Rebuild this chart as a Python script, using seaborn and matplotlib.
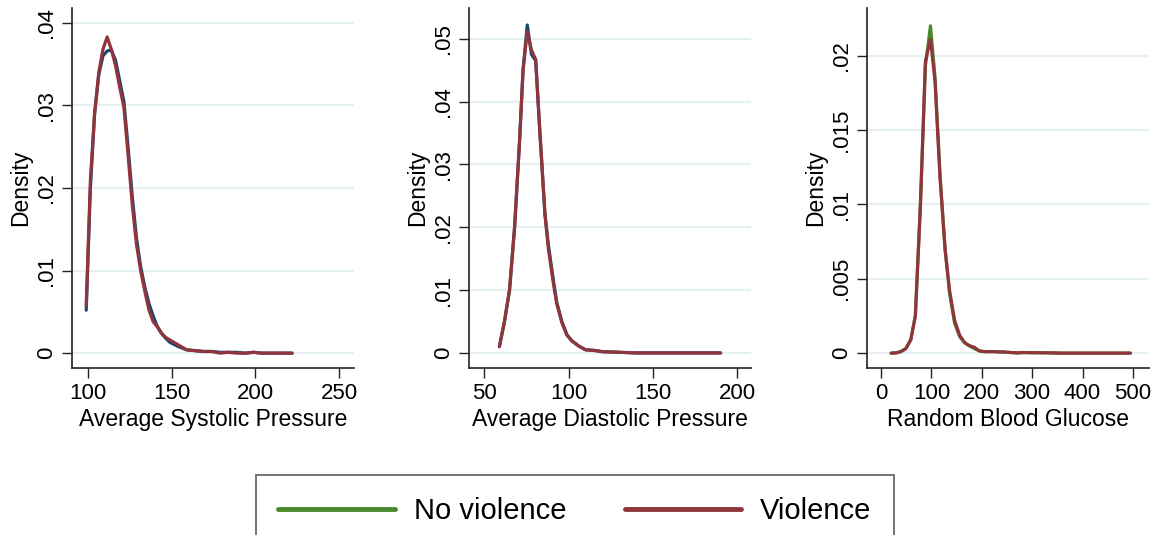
import pandas as pd
import numpy as np
import matplotlib
matplotlib.use("Agg")
import matplotlib.pyplot as plt
import seaborn as sns
from matplotlib.lines import Line2D

# ---- data ----
# systolic
sys_x = [99, 101.5, 104, 106.5, 109, 111.5, 114, 116.5, 119, 121.5, 124, 126.5, 129, 131.5,
         134, 136.5, 139, 141.5, 144, 146.5, 149, 154, 159, 164, 169, 174, 179, 184, 189,
         194, 199, 204, 209, 214, 222]
sys_noviol = [0.0052, 0.020, 0.029, 0.0337, 0.0360, 0.0366, 0.0367, 0.0355, 0.0330, 0.0305,
              0.0250, 0.0190, 0.0140, 0.0105, 0.0080, 0.0060, 0.0045, 0.0032, 0.0024,
              0.0018, 0.0013, 0.0008, 0.0004, 0.0003, 0.0002, 0.0002, 0.0001, 0.0001,
              0.0001, 0.0, 0.0001, 0.0, 0.0, 0.0, 0.0]
sys_viol = [0.0058, 0.021, 0.029, 0.0340, 0.0368, 0.0383, 0.0368, 0.0348, 0.0322, 0.0298,
            0.0240, 0.0180, 0.0132, 0.0100, 0.0075, 0.0052, 0.0038, 0.0032, 0.0024,
            0.0019, 0.0016, 0.0010, 0.0004, 0.0003, 0.0002, 0.0002, 0.0, 0.0001, 0.0,
            0.0, 0.0001, 0.0, 0.0, 0.0, 0.0]

# diastolic
dia_x = [59, 62, 65, 68, 71, 73, 75.5, 78, 80.5, 83, 86, 88, 91, 93, 96, 99, 102, 106, 110,
         115, 120, 130, 140, 150, 160, 170, 180, 190]
dia_noviol = [0.001, 0.005, 0.010, 0.020, 0.034, 0.045, 0.0522, 0.0475, 0.0465, 0.035,
              0.022, 0.0172, 0.0115, 0.0080, 0.0050, 0.0029, 0.0019, 0.0011, 0.0005,
              0.0004, 0.0002, 0.0001, 0.0, 0.0, 0.0, 0.0, 0.0, 0.0]
dia_viol = [0.001, 0.005, 0.010, 0.020, 0.034, 0.045, 0.0511, 0.0482, 0.0467, 0.035,
            0.022, 0.0166, 0.0110, 0.0078, 0.0048, 0.0028, 0.0019, 0.0011, 0.0005,
            0.0004, 0.0002, 0.0001, 0.0, 0.0, 0.0, 0.0, 0.0, 0.0]

# glucose
glu_x = [20, 30, 39, 49, 59, 68, 78, 88, 98, 107, 117, 127, 136, 146, 156, 166, 175, 185,
         195, 205, 214, 224, 234, 243, 253, 263, 272, 282, 300, 330, 360, 400, 440, 495]
glu_noviol = [0.0, 0.00002, 0.0001, 0.0003, 0.0009, 0.0025, 0.0100, 0.0193, 0.0220, 0.0186,
              0.0120, 0.0070, 0.0040, 0.0020, 0.0011, 0.0007, 0.0005, 0.0003, 0.00015,
              0.0001, 0.0001, 0.0001, 0.00008, 0.00008, 0.00005, 0.00003, 0.00002,
              0.00004, 0.00003, 0.00002, 0.0, 0.0, 0.0, 0.0]
glu_viol = [0.0, 0.00002, 0.0001, 0.0003, 0.0009, 0.0025, 0.0098, 0.0196, 0.0211, 0.0183,
            0.0118, 0.0070, 0.0042, 0.0022, 0.0012, 0.0007, 0.0005, 0.0004, 0.00015,
            0.0001, 0.0001, 0.0001, 0.00008, 0.00008, 0.00005, 0.00003, 0.00002,
            0.00004, 0.00003, 0.00002, 0.0, 0.0, 0.0, 0.0]

navy = "#1a476f"
maroon = "#90353b"
green = "#4a8a2c"

sns.set_style("ticks")
plt.rcParams["font.family"] = ["Liberation Sans", "DejaVu Sans"]
plt.rcParams["text.color"] = "black"
plt.rcParams["axes.labelcolor"] = "black"
plt.rcParams["xtick.color"] = "black"
plt.rcParams["ytick.color"] = "black"

fig = plt.figure(figsize=(11.59, 5.35), dpi=100)

panels = [
    dict(x=sys_x, a=sys_noviol, b=sys_viol, col_a=navy, left=72,
         xlim=(90.5, 259), xticks=[100, 150, 200, 250],
         ylim=(-0.0018, 0.0418), yticks=[0, 0.01, 0.02, 0.03, 0.04],
         ylabels=["0", ".01", ".02", ".03", ".04"], xlabel="Average Systolic Pressure"),
    dict(x=dia_x, a=dia_noviol, b=dia_viol, col_a=navy, left=469,
         xlim=(41, 208), xticks=[50, 100, 150, 200],
         ylim=(-0.0024, 0.0549), yticks=[0, 0.01, 0.02, 0.03, 0.04, 0.05],
         ylabels=["0", ".01", ".02", ".03", ".04", ".05"], xlabel="Average Diastolic Pressure"),
    dict(x=glu_x, a=glu_noviol, b=glu_viol, col_a=green, left=867,
         xlim=(-28, 532), xticks=[0, 100, 200, 300, 400, 500],
         ylim=(-0.001, 0.0232), yticks=[0, 0.005, 0.01, 0.015, 0.02],
         ylabels=["0", ".005", ".01", ".015", ".02"], xlabel="Random Blood Glucose"),
]

W, H = 1159, 535
for p in panels:
    ax = fig.add_axes([p["left"] / W, 1 - 368 / H, 282 / W, 360 / H])
    df = pd.DataFrame({"x": p["x"] + p["x"],
                       "density": p["a"] + p["b"],
                       "group": ["No violence"] * len(p["x"]) + ["Violence"] * len(p["x"])})
    sns.lineplot(data=df, x="x", y="density", hue="group",
                 palette={"No violence": p["col_a"], "Violence": maroon},
                 linewidth=2.3, legend=False, ax=ax, sort=False)
    ax.set_xlim(*p["xlim"])
    ax.set_ylim(*p["ylim"])
    ax.set_xticks(p["xticks"])
    ax.set_yticks(p["yticks"])
    ax.set_yticklabels(p["ylabels"], rotation=90, va="center")
    for yt in p["yticks"]:
        ax.axhline(yt, color="#e6eff2", lw=1.6, zorder=0)
    ax.tick_params(axis="both", labelsize=16, length=7.5, width=1, color="#222222", pad=3)
    ax.set_xlabel(p["xlabel"], fontsize=16.5, labelpad=3)
    ax.set_ylabel("Density", fontsize=16.5, labelpad=3)
    sns.despine(ax=ax)
    for s in ["left", "bottom"]:
        ax.spines[s].set_linewidth(1.2)
        ax.spines[s].set_color("#222222")

handles = [Line2D([], [], color=green, lw=3.5), Line2D([], [], color=maroon, lw=3.5)]
leg = fig.legend(handles, ["No violence", "Violence"], loc="upper center",
                 bbox_to_anchor=(575 / W, 1 - 475 / H), ncol=2, fontsize=21,
                 frameon=True, fancybox=False, edgecolor="#333333",
                 handlelength=4.0, handletextpad=0.65, columnspacing=2.0,
                 borderpad=0.75, borderaxespad=0)
leg.get_frame().set_linewidth(1.2)

fig.savefig("out.png", dpi=100)
